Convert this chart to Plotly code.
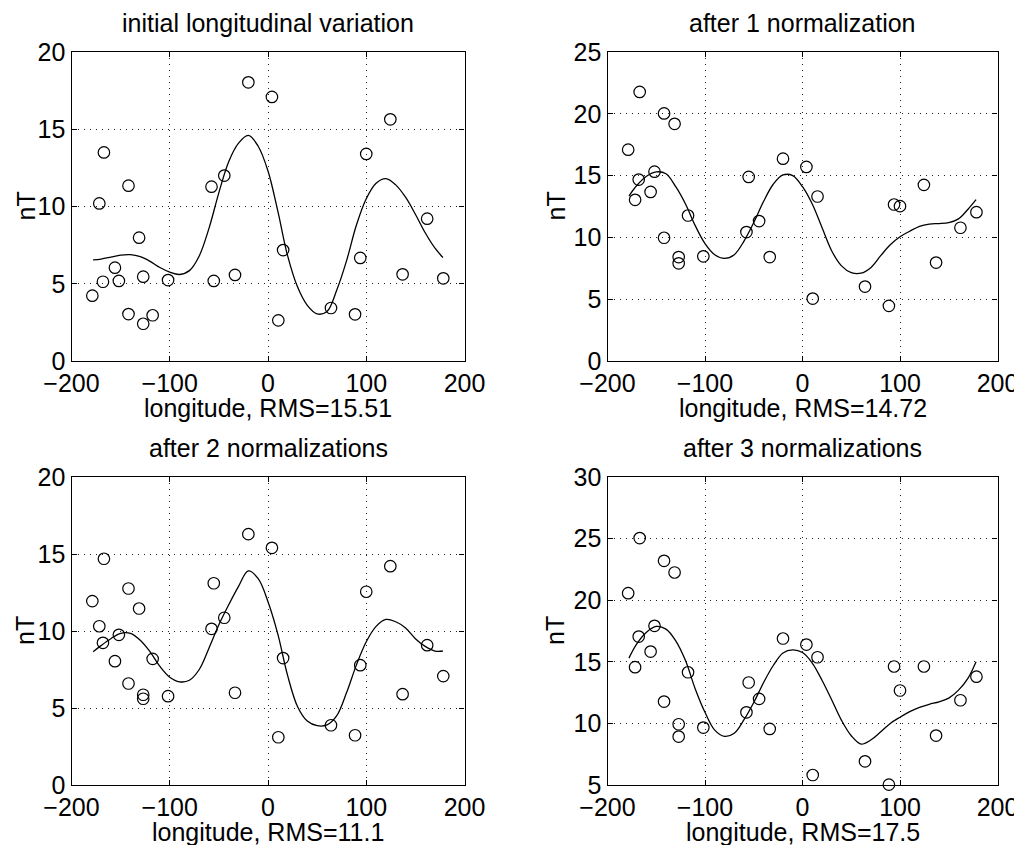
import plotly.graph_objects as go

# ---------------- data ----------------
lon = [-178.8, -171.7, -168, -167, -155.8, -151.8, -142, -142, -131.2, -127, -127,
       -117.4, -101.7, -57.5, -55.2, -44.5, -33.6, -20, 4, 10.5, 15.4, 64.1, 88.6,
       93.9, 100, 124.5, 137, 162, 178.4]

obs_initial = [4.23, 10.2, 5.13, 13.5, 6.04, 5.18, 11.35, 3.04, 7.98, 5.46, 2.41, 2.96,
               5.24, 11.28, 5.18, 12.0, 5.57, 18.04, 17.09, 2.63, 7.18, 3.43, 3.02, 6.67,
               13.4, 15.64, 5.61, 9.21, 5.35]
obs_norm1 = [17.1, 13.04, 14.68, 21.77, 13.68, 15.32, 20.03, 9.97, 19.19, 8.41, 7.9, 11.77,
             8.47, 10.43, 14.89, 11.32, 8.41, 16.37, 15.7, 5.05, 13.31, 6.02, 4.46, 12.66,
             12.53, 14.25, 7.96, 10.78, 12.04]
obs_norm2 = [11.94, 10.31, 9.23, 14.69, 8.04, 9.75, 12.76, 6.59, 11.46, 5.86, 5.6, 8.19,
             5.77, 10.14, 13.1, 10.86, 5.99, 16.29, 15.4, 3.1, 8.24, 3.88, 3.23, 7.78,
             12.55, 14.21, 5.9, 9.08, 7.07]
obs_norm3 = [20.57, 14.56, 17.05, 25.04, 15.83, 17.92, 23.2, 11.77, 22.25, 9.93, 8.93, 14.15,
             9.66, 10.9, 13.32, 11.99, 9.55, 16.89, 16.4, 5.81, 15.37, 6.92, 5.03, 14.62,
             12.67, 14.62, 9.01, 11.88, 13.79]

fit_lon = [-178, -170, -160, -150, -140, -130, -120, -110, -100, -90, -80, -70, -60, -50,
           -40, -30, -20, -10, 0, 10, 20, 30, 40, 50, 60, 70, 80, 90, 100, 110, 120, 130,
           140, 150, 160, 170, 178]

fit_initial = [6.55, 6.6, 6.72, 6.85, 6.88, 6.75, 6.45, 6.05, 5.75, 5.6, 5.85, 6.8, 8.6, 10.9,
               12.9, 14.1, 14.6, 13.9, 12.3, 9.7, 6.8, 4.8, 3.6, 3.05, 3.2, 4.6, 6.5, 8.8,
               10.5, 11.5, 11.8, 11.4, 10.6, 9.5, 8.3, 7.3, 6.7]
fit_norm1 = [13.35, 14.2, 14.95, 15.3, 15.15, 14.1, 12.7, 10.95, 9.5, 8.6, 8.3, 8.6, 9.7,
             11.2, 12.9, 14.3, 15.05, 15.0, 14.1, 12.7, 10.8, 8.9, 7.7, 7.15, 7.1, 7.55,
             8.5, 9.4, 10.05, 10.5, 10.9, 11.08, 11.12, 11.2, 11.5, 12.3, 13.05]
fit_norm2 = [8.65, 9.05, 9.5, 9.85, 9.85, 9.4, 8.65, 7.7, 7.0, 6.7, 6.8, 7.5, 8.9, 10.4,
             11.7, 12.9, 13.9, 13.4, 11.9, 9.8, 7.1, 5.1, 4.15, 3.85, 3.9, 4.5, 6.0, 7.8,
             9.3, 10.3, 10.75, 10.6, 10.2, 9.5, 9.0, 8.7, 8.7]
fit_norm3 = [15.3, 16.45, 17.4, 17.87, 17.65, 16.7, 15.1, 12.8, 10.9, 9.45, 8.95, 9.2, 10.3,
             11.7, 13.3, 14.7, 15.72, 15.97, 15.75, 14.9, 13.5, 11.9, 10.25, 9.0, 8.32,
             8.65, 9.3, 10.0, 10.5, 10.95, 11.3, 11.55, 11.75, 12.05, 12.7, 13.7, 15.0]

titles = ["initial longitudinal variation", "after 1 normalization",
          "after 2 normalizations", "after 3 normalizations"]
xlabels = ["longitude, RMS=15.51", "longitude, RMS=14.72",
           "longitude, RMS=11.1", "longitude, RMS=17.5"]
ylabel = "nT"
x_ticks = [-200, -100, 0, 100, 200]
y_ranges = [[0, 20], [0, 25], [0, 20], [5, 30]]
y_ticks = [[0, 5, 10, 15, 20], [0, 5, 10, 15, 20, 25], [0, 5, 10, 15, 20],
           [5, 10, 15, 20, 25, 30]]

obs = [obs_initial, obs_norm1, obs_norm2, obs_norm3]
fits = [fit_initial, fit_norm1, fit_norm2, fit_norm3]

# ---------------- layout geometry (pixels of the 1022x845 window) ----------------
OFF = 8                       # default page margin of the html body
W, H = 1022 - OFF, 845 - OFF  # figure size so that it fits the window
cols = [(71.5, 464.5), (607.5, 997.5)]
rows = [(52, 361), (477, 785)]
ylabel_x = [25, 555]
FONT = "Liberation Sans, Arial, Helvetica, sans-serif"


def px(p):
    return (p - OFF) / W


def py(p):
    return 1 - (p - OFF) / H


fig = go.Figure()
annotations = []
layout_axes = {}

for i in range(4):
    r, c = divmod(i, 2)
    x0, x1 = cols[c]
    y0, y1 = rows[r]
    n = "" if i == 0 else str(i + 1)
    xa, ya = "x" + n, "y" + n

    fig.add_trace(go.Scatter(x=fit_lon, y=fits[i], mode="lines",
                             line=dict(color="black", width=1.3, shape="spline"),
                             xaxis=xa, yaxis=ya, hoverinfo="skip"))
    fig.add_trace(go.Scatter(x=lon, y=obs[i], mode="markers",
                             marker=dict(symbol="circle-open", size=11.5,
                                         color="black", line=dict(width=1.2, color="black")),
                             cliponaxis=False, xaxis=xa, yaxis=ya))

    common = dict(showgrid=True, gridcolor="#222", gridwidth=1, griddash="1px,5px",
                  zeroline=False, showline=True, linecolor="black", linewidth=1.2,
                  mirror="ticks", ticks="inside", ticklen=5, tickcolor="black",
                  automargin=False,
                  tickfont=dict(family=FONT, size=25, color="black"))
    layout_axes["xaxis" + n] = dict(domain=[px(x0), px(x1)], anchor=ya,
                                    range=[-200, 200], tickvals=x_ticks, **common)
    layout_axes["yaxis" + n] = dict(domain=[py(y1), py(y0)], anchor=xa,
                                    range=y_ranges[i], tickvals=y_ticks[i], **common)

    cx = (x0 + x1) / 2
    annotations.append(dict(text=titles[i], x=px(cx), y=py(y0 - 29),
                            xref="paper", yref="paper", showarrow=False,
                            xanchor="center", yanchor="middle",
                            font=dict(family=FONT, size=25, color="black")))
    annotations.append(dict(text=xlabels[i], x=px(cx), y=py(y1 + 47),
                            xref="paper", yref="paper", showarrow=False,
                            xanchor="center", yanchor="middle",
                            font=dict(family=FONT, size=25, color="black")))
    annotations.append(dict(text=ylabel, x=px(ylabel_x[c]), y=py((y0 + y1) / 2),
                            xref="paper", yref="paper", showarrow=False, textangle=-90,
                            xanchor="center", yanchor="middle",
                            font=dict(family=FONT, size=25, color="black")))

fig.update_layout(template="none", width=W, height=H,
                  margin=dict(l=0, r=0, t=0, b=0, pad=0, autoexpand=False),
                  paper_bgcolor="white", plot_bgcolor="white", showlegend=False,
                  annotations=annotations, **layout_axes)

fig.write_html("out.html")
